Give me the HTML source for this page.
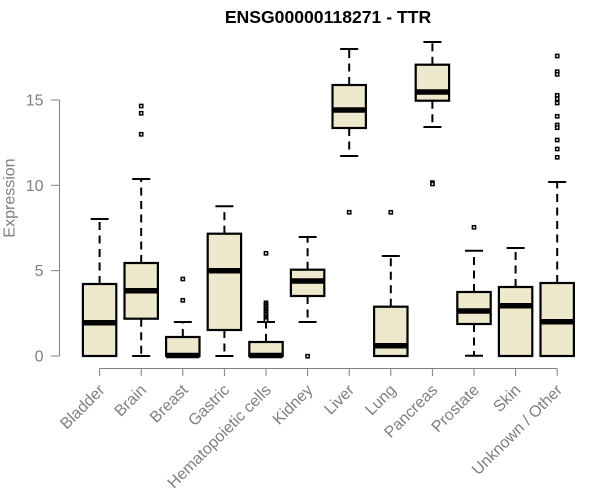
<!DOCTYPE html>
<html><head><meta charset="utf-8"><style>
html,body{margin:0;padding:0;background:#fff;}
svg{display:block;}
text{font-family:"Liberation Sans",Arial,sans-serif;}
</style></head><body>
<svg width="600" height="500" viewBox="0 0 600 500" xmlns="http://www.w3.org/2000/svg">
<rect width="600" height="500" fill="#fff"/>
<text x="328" y="23" text-anchor="middle" font-size="17.6" font-weight="bold" fill="#000">ENSG00000118271 - TTR</text>

<!-- y axis -->
<g stroke="#808080" stroke-width="1" fill="none">
<line x1="59.5" y1="100" x2="59.5" y2="356"/>
<line x1="51" y1="356" x2="59.5" y2="356"/>
<line x1="51" y1="270.65" x2="59.5" y2="270.65"/>
<line x1="51" y1="185.3" x2="59.5" y2="185.3"/>
<line x1="51" y1="100" x2="59.5" y2="100"/>
</g>
<g font-size="16" fill="#7f7f7f" text-anchor="end">
<text x="43.5" y="361.5">0</text>
<text x="43.5" y="276.2">5</text>
<text x="43.5" y="190.8">10</text>
<text x="43.5" y="105.5">15</text>
</g>
<text transform="translate(14.5,198) rotate(-90)" text-anchor="middle" font-size="16" fill="#7f7f7f">Expression</text>

<!-- x axis -->
<g stroke="#808080" stroke-width="1" fill="none">
<line x1="99.6" y1="368.5" x2="557.2" y2="368.5"/>
<line x1="99.6" y1="368.5" x2="99.6" y2="376"/>
<line x1="141.2" y1="368.5" x2="141.2" y2="376"/>
<line x1="182.8" y1="368.5" x2="182.8" y2="376"/>
<line x1="224.4" y1="368.5" x2="224.4" y2="376"/>
<line x1="266" y1="368.5" x2="266" y2="376"/>
<line x1="307.6" y1="368.5" x2="307.6" y2="376"/>
<line x1="349.2" y1="368.5" x2="349.2" y2="376"/>
<line x1="390.8" y1="368.5" x2="390.8" y2="376"/>
<line x1="432.4" y1="368.5" x2="432.4" y2="376"/>
<line x1="474" y1="368.5" x2="474" y2="376"/>
<line x1="515.6" y1="368.5" x2="515.6" y2="376"/>
<line x1="557.2" y1="368.5" x2="557.2" y2="376"/>
</g>
<g font-size="16" fill="#7f7f7f" text-anchor="end">
<text transform="translate(105.6,391) rotate(-45)">Bladder</text>
<text transform="translate(147.2,391) rotate(-45)">Brain</text>
<text transform="translate(188.8,391) rotate(-45)">Breast</text>
<text transform="translate(230.4,391) rotate(-45)">Gastric</text>
<text transform="translate(272,391) rotate(-45)">Hematopoietic cells</text>
<text transform="translate(313.6,391) rotate(-45)">Kidney</text>
<text transform="translate(355.2,391) rotate(-45)">Liver</text>
<text transform="translate(396.8,391) rotate(-45)">Lung</text>
<text transform="translate(438.4,391) rotate(-45)">Pancreas</text>
<text transform="translate(480,391) rotate(-45)">Prostate</text>
<text transform="translate(521.6,391) rotate(-45)">Skin</text>
<text transform="translate(563.2,391) rotate(-45)">Unknown / Other</text>
</g>

<!-- boxes -->
<g fill="#EEE8CD" stroke="#000" stroke-width="2.2">
<rect x="82.9" y="284" width="33.4" height="72"/>
<rect x="124.5" y="263" width="33.4" height="55.7"/>
<rect x="166.1" y="337" width="33.4" height="19"/>
<rect x="207.7" y="233.7" width="33.4" height="96.3"/>
<rect x="249.3" y="342" width="33.4" height="14"/>
<rect x="290.9" y="269.7" width="33.4" height="26.3"/>
<rect x="332.5" y="85" width="33.4" height="43"/>
<rect x="374.1" y="306.7" width="33.4" height="49.3"/>
<rect x="415.7" y="64.7" width="33.4" height="36"/>
<rect x="457.3" y="292" width="33.4" height="32"/>
<rect x="498.9" y="287" width="33.4" height="69"/>
<rect x="540.5" y="283" width="33.4" height="73"/>
</g>
<!-- medians -->
<g stroke="#000" stroke-width="5.5">
<line x1="82.9" y1="322.7" x2="116.3" y2="322.7"/>
<line x1="124.5" y1="290.7" x2="157.9" y2="290.7"/>
<line x1="166.1" y1="355.5" x2="199.5" y2="355.5"/>
<line x1="207.7" y1="270.7" x2="241.1" y2="270.7"/>
<line x1="249.3" y1="355.5" x2="282.7" y2="355.5"/>
<line x1="290.9" y1="281" x2="324.3" y2="281"/>
<line x1="332.5" y1="110" x2="365.9" y2="110"/>
<line x1="374.1" y1="345.7" x2="407.5" y2="345.7"/>
<line x1="415.7" y1="92" x2="449.1" y2="92"/>
<line x1="457.3" y1="311" x2="490.7" y2="311"/>
<line x1="498.9" y1="305.7" x2="532.3" y2="305.7"/>
<line x1="540.5" y1="321.7" x2="573.9" y2="321.7"/>
</g>
<!-- whiskers -->
<g stroke="#000" stroke-width="2" stroke-dasharray="8,5.5">
<line x1="99.6" y1="284" x2="99.6" y2="219"/>
<line x1="141.2" y1="263" x2="141.2" y2="179"/>
<line x1="141.2" y1="318.7" x2="141.2" y2="356"/>
<line x1="182.8" y1="337" x2="182.8" y2="322"/>
<line x1="224.4" y1="233.7" x2="224.4" y2="206.3"/>
<line x1="224.4" y1="330" x2="224.4" y2="356"/>
<line x1="266" y1="342" x2="266" y2="322"/>
<line x1="307.6" y1="269.7" x2="307.6" y2="237"/>
<line x1="307.6" y1="296" x2="307.6" y2="322"/>
<line x1="349.2" y1="85" x2="349.2" y2="49"/>
<line x1="349.2" y1="128" x2="349.2" y2="156"/>
<line x1="390.8" y1="306.7" x2="390.8" y2="256"/>
<line x1="432.4" y1="64.7" x2="432.4" y2="42"/>
<line x1="432.4" y1="100.7" x2="432.4" y2="127"/>
<line x1="474" y1="292" x2="474" y2="250.7"/>
<line x1="474" y1="324" x2="474" y2="355.7"/>
<line x1="515.6" y1="287" x2="515.6" y2="248"/>
<line x1="557.2" y1="283" x2="557.2" y2="182"/>
</g>
<!-- staples -->
<g stroke="#000" stroke-width="2">
<line x1="90.6" y1="219" x2="108.6" y2="219"/>
<line x1="132.2" y1="179" x2="150.2" y2="179"/>
<line x1="132.2" y1="356" x2="150.2" y2="356"/>
<line x1="173.8" y1="322" x2="191.8" y2="322"/>
<line x1="215.4" y1="206.3" x2="233.4" y2="206.3"/>
<line x1="215.4" y1="356" x2="233.4" y2="356"/>
<line x1="257" y1="322" x2="275" y2="322"/>
<line x1="298.6" y1="237" x2="316.6" y2="237"/>
<line x1="298.6" y1="322" x2="316.6" y2="322"/>
<line x1="340.2" y1="49" x2="358.2" y2="49"/>
<line x1="340.2" y1="156" x2="358.2" y2="156"/>
<line x1="381.8" y1="256" x2="399.8" y2="256"/>
<line x1="423.4" y1="42" x2="441.4" y2="42"/>
<line x1="423.4" y1="127" x2="441.4" y2="127"/>
<line x1="465" y1="250.7" x2="483" y2="250.7"/>
<line x1="465" y1="355.7" x2="483" y2="355.7"/>
<line x1="506.6" y1="248" x2="524.6" y2="248"/>
<line x1="548.2" y1="182" x2="566.2" y2="182"/>
</g>
<!-- outliers -->
<g fill="#fff" stroke="#000" stroke-width="1.5">
<rect x="139.6" y="104.4" width="3.2" height="3.2"/>
<rect x="139.6" y="111.7" width="3.2" height="3.2"/>
<rect x="139.6" y="132.7" width="3.2" height="3.2"/>
<rect x="181.2" y="277.4" width="3.2" height="3.2"/>
<rect x="181.2" y="298.7" width="3.2" height="3.2"/>
<rect x="264.4" y="251.7" width="3.2" height="3.2"/>
<rect x="264.4" y="301.2" width="3.2" height="3.2"/>
<rect x="264.4" y="302.8" width="3.2" height="3.2"/>
<rect x="264.4" y="304.4" width="3.2" height="3.2"/>
<rect x="264.4" y="306" width="3.2" height="3.2"/>
<rect x="264.4" y="307.6" width="3.2" height="3.2"/>
<rect x="264.4" y="309.2" width="3.2" height="3.2"/>
<rect x="264.4" y="310.8" width="3.2" height="3.2"/>
<rect x="264.4" y="312.4" width="3.2" height="3.2"/>
<rect x="264.4" y="314" width="3.2" height="3.2"/>
<rect x="264.4" y="315.6" width="3.2" height="3.2"/>
<rect x="264.4" y="317.2" width="3.2" height="3.2"/>
<rect x="264.4" y="318.8" width="3.2" height="3.2"/>
<rect x="306" y="354.6" width="3.2" height="3.2"/>
<rect x="347.6" y="210.7" width="3.2" height="3.2"/>
<rect x="389.2" y="210.7" width="3.2" height="3.2"/>
<rect x="430.8" y="181" width="3.2" height="3.2"/>
<rect x="430.8" y="182.4" width="3.2" height="3.2"/>
<rect x="472.4" y="225.7" width="3.2" height="3.2"/>
<rect x="555.6" y="54.4" width="3.2" height="3.2"/>
<rect x="555.6" y="70.1" width="3.2" height="3.2"/>
<rect x="555.6" y="72.7" width="3.2" height="3.2"/>
<rect x="555.6" y="93.7" width="3.2" height="3.2"/>
<rect x="555.6" y="97.1" width="3.2" height="3.2"/>
<rect x="555.6" y="101.4" width="3.2" height="3.2"/>
<rect x="555.6" y="114.7" width="3.2" height="3.2"/>
<rect x="555.6" y="123.4" width="3.2" height="3.2"/>
<rect x="555.6" y="126.1" width="3.2" height="3.2"/>
<rect x="555.6" y="138.4" width="3.2" height="3.2"/>
<rect x="555.6" y="147.4" width="3.2" height="3.2"/>
<rect x="555.6" y="155.7" width="3.2" height="3.2"/>
</g>
</svg>
</body></html>
